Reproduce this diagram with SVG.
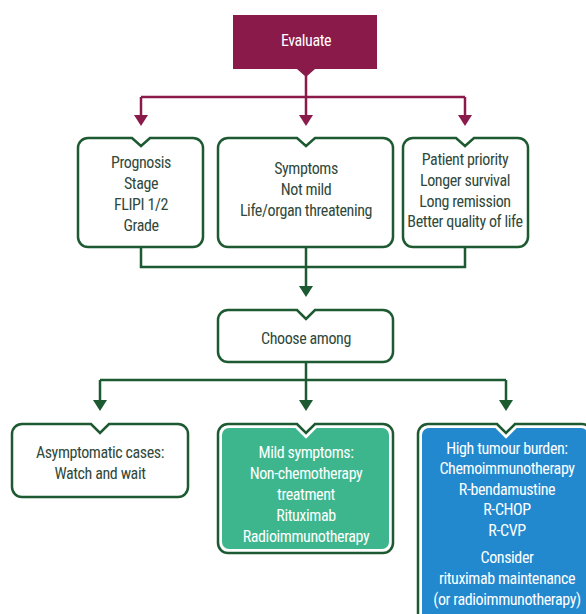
<svg xmlns="http://www.w3.org/2000/svg" width="586" height="614" viewBox="0 0 586 614">
<defs>
<style>
.t{font-family:"Liberation Sans Narrow","Roboto Condensed","Liberation Sans",sans-serif;font-size:16px;letter-spacing:-0.4px;text-anchor:middle;fill:#30493b}
.w{fill:#ffffff}
.box{fill:#ffffff;stroke:#1d5a31;stroke-width:2.5}
.mc{fill:none;stroke:#8a1a4a;stroke-width:2.5}
.gc{fill:none;stroke:#1d5a31;stroke-width:2.5}
</style>
<marker id="am" viewBox="0 0 11 14" refX="0" refY="7" markerWidth="11" markerHeight="14" markerUnits="userSpaceOnUse" orient="auto"><path d="M0,0 L11,7 L0,14 Z" fill="#8a1a4a"/></marker>
<marker id="ag" viewBox="0 0 11 14" refX="0" refY="7" markerWidth="11" markerHeight="14" markerUnits="userSpaceOnUse" orient="auto"><path d="M0,0 L11,7 L0,14 Z" fill="#1d5a31"/></marker>
</defs>
<rect width="586" height="614" fill="#ffffff"/>
<g id="connectors">
<path class="mc" d="M306,76 V97 M141,97 H465"/>
<path class="mc" d="M141,97 V115" marker-end="url(#am)"/>
<path class="mc" d="M306,97 V115" marker-end="url(#am)"/>
<path class="mc" d="M465,97 V115" marker-end="url(#am)"/>
<path class="gc" d="M141,247 V267 H465 V247"/>
<path class="gc" d="M306,247 V286" marker-end="url(#ag)"/>
<path class="gc" d="M306,362 V380 M100,380 H506"/>
<path class="gc" d="M100,380 V400" marker-end="url(#ag)"/>
<path class="gc" d="M306,380 V400" marker-end="url(#ag)"/>
<path class="gc" d="M506,380 V400" marker-end="url(#ag)"/>
</g>
<g id="evaluate">
<path d="M233,15 H377 V69 H315 L306,77 L297,69 H233 Z" fill="#8a1a4a"/>
<text class="t w" x="306" y="46">Evaluate</text>
</g>
<g id="prognosis">
<path class="box" d="M88,138 H132 L141,146 L150,138 H193 A10,10 0 0 1 203,148 V237 A10,10 0 0 1 193,247 H88 A10,10 0 0 1 78,237 V148 A10,10 0 0 1 88,138 Z"/>
<text class="t" x="141" y="168">Prognosis</text>
<text class="t" x="141" y="189">Stage</text>
<text class="t" x="141" y="210">FLIPI 1/2</text>
<text class="t" x="141" y="231">Grade</text>
</g>
<g id="symptoms">
<path class="box" d="M228,138 H297 L306,146 L315,138 H383 A10,10 0 0 1 393,148 V237 A10,10 0 0 1 383,247 H228 A10,10 0 0 1 218,237 V148 A10,10 0 0 1 228,138 Z"/>
<text class="t" x="306" y="174">Symptoms</text>
<text class="t" x="306" y="195">Not mild</text>
<text class="t" x="306" y="216">Life/organ threatening</text>
</g>
<g id="priority">
<path class="box" d="M413,138 H456 L465,146 L474,138 H518 A10,10 0 0 1 528,148 V237 A10,10 0 0 1 518,247 H413 A10,10 0 0 1 403,237 V148 A10,10 0 0 1 413,138 Z"/>
<text class="t" x="465" y="165">Patient priority</text>
<text class="t" x="465" y="186">Longer survival</text>
<text class="t" x="465" y="207">Long remission</text>
<text class="t" x="465" y="227">Better quality of life</text>
</g>
<g id="choose">
<path class="box" d="M228,310 H297 L306,319 L315,310 H383 A10,10 0 0 1 393,320 V352 A10,10 0 0 1 383,362 H228 A10,10 0 0 1 218,352 V320 A10,10 0 0 1 228,310 Z"/>
<text class="t" x="306" y="344">Choose among</text>
</g>
<g id="asymptomatic">
<path class="box" d="M22,424 H91 L100,433 L109,424 H178 A10,10 0 0 1 188,434 V487 A10,10 0 0 1 178,497 H22 A10,10 0 0 1 12,487 V434 A10,10 0 0 1 22,424 Z"/>
<text class="t" x="100" y="458">Asymptomatic cases:</text>
<text class="t" x="100" y="479">Watch and wait</text>
</g>
<g id="mild">
<path class="box" d="M228,424 H297 L306,433 L315,424 H383 A10,10 0 0 1 393,434 V543 A10,10 0 0 1 383,553 H228 A10,10 0 0 1 218,543 V434 A10,10 0 0 1 228,424 Z"/>
<path d="M229,428 H295.3 L306,438.7 L316.7,428 H382 A7,7 0 0 1 389,435 V542 A7,7 0 0 1 382,549 H229 A7,7 0 0 1 222,542 V435 A7,7 0 0 1 229,428 Z" fill="#3db68e"/>
<text class="t w" x="306" y="458">Mild symptoms:</text>
<text class="t w" x="306" y="479">Non-chemotherapy</text>
<text class="t w" x="306" y="500">treatment</text>
<text class="t w" x="306" y="521">Rituximab</text>
<text class="t w" x="306" y="542">Radioimmunotherapy</text>
</g>
<g id="high">
<path class="box" d="M428,424 H497 L506,433 L515,424 H582 A10,10 0 0 1 592,434 V630 H418 V434 A10,10 0 0 1 428,424 Z"/>
<path d="M429,428 H495.3 L506,438.7 L516.7,428 H581 A7,7 0 0 1 588,435 V626 H422 V435 A7,7 0 0 1 429,428 Z" fill="#2289cf"/>
<text class="t w" x="507" y="454">High tumour burden:</text>
<text class="t w" x="507" y="474">Chemoimmunotherapy</text>
<text class="t w" x="507" y="495">R-bendamustine</text>
<text class="t w" x="507" y="515">R-CHOP</text>
<text class="t w" x="507" y="536">R-CVP</text>
<text class="t w" x="507" y="563">Consider</text>
<text class="t w" x="507" y="584">rituximab maintenance</text>
<text class="t w" x="507" y="605">(or radioimmunotherapy)</text>
</g>
</svg>
